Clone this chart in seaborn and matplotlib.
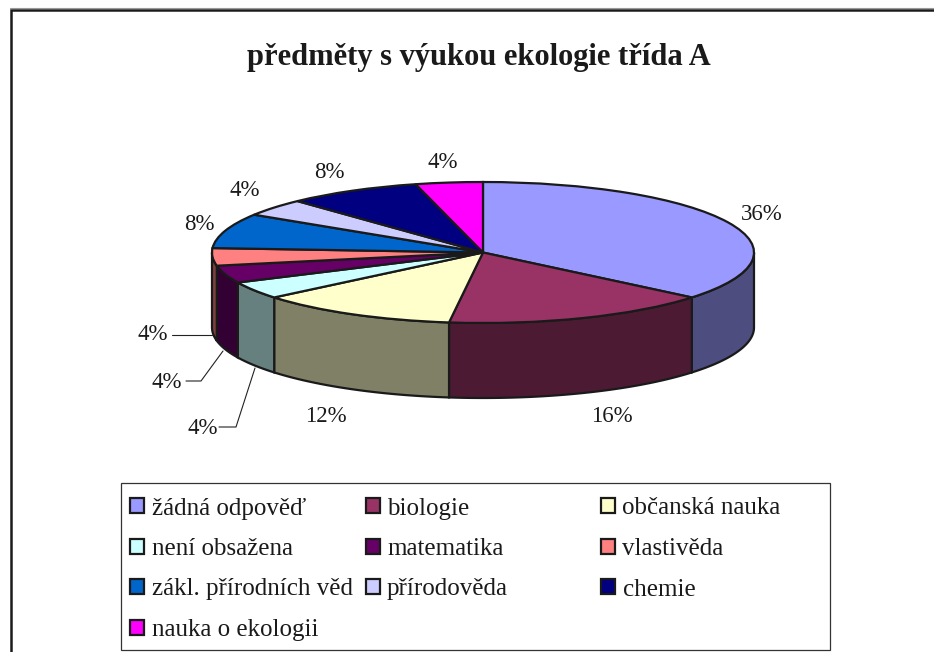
import numpy as np
import matplotlib.pyplot as plt
import matplotlib.colors as mc
from matplotlib.patches import Rectangle
import seaborn as sns

sns.set_theme(style="white")
plt.rcParams['font.family'] = ['Liberation Serif', 'DejaVu Serif']
plt.rcParams['text.color'] = 'k'

# data
title = "předměty s výukou ekologie třída A"
categories = ["žádná odpověď", "biologie", "občanská nauka", "není obsažena", "matematika",
              "vlastivěda", "zákl. přírodních věd", "přírodověda", "chemie", "nauka o ekologii"]
values = [9, 4, 3, 1, 1, 1, 2, 1, 2, 1]
colors = ["#9999FF", "#993366", "#FFFFCC", "#CCFFFF", "#660066",
          "#FF8080", "#0066CC", "#CCCCFF", "#000080", "#FF00FF"]

W, H = 934, 652
palette = sns.color_palette(colors)

fig = plt.figure(figsize=(W / 100, H / 100), dpi=100, facecolor='w')

# vrstva v pixelech pro ramecek a popisky
bg = fig.add_axes([0, 0, 1, 1])
bg.set_xlim(0, W)
bg.set_ylim(H, 0)
bg.axis('off')
# ramecek je videt jen nahore a vlevo
bg.plot([10.5, 10.5, W], [H, 10, 10], color='k', lw=1.8, solid_joinstyle='miter')
bg.plot([10, W], [8, 8], color='#999999', lw=0.8)
bg.text(478.5, 58, title, ha='center', va='center', fontsize=22, fontweight='bold')

# kolac - elipsa se stredem (483, 252.5)
cx, cy, rx, ry, depth = 483, 252.5, 271, 70.5, 75
ax = fig.add_axes([(cx - rx) / W, 1 - (cy + ry) / H, 2 * rx / W, 2 * ry / H])
ax.patch.set_alpha(0)
wedges, _ = ax.pie(values, colors=palette, startangle=90, counterclock=False,
                   wedgeprops=dict(edgecolor='k', linewidth=1.6))
ax.set_aspect('auto')
ax.set_xlim(-1, 1)
ax.set_ylim(-1, 1)
ax.axis('off')

# bocni stena, jen predni polovina
d = depth / ry
total = sum(values)
ends = 90 - np.cumsum(values) / total * 360
starts = np.r_[90, ends[:-1]]
for a0, a1, c in zip(starts, ends, palette):
    lo, hi = a1 % 360, a0 % 360
    if hi <= lo:
        hi += 360
    lo2, hi2 = max(lo, 180), min(hi, 360)
    if hi2 <= lo2:
        continue
    t = np.radians(np.linspace(lo2, hi2, 60))
    xs = np.r_[np.cos(t), np.cos(t[::-1])]
    ys = np.r_[np.sin(t), np.sin(t[::-1]) - d]
    dark = tuple(np.array(mc.to_rgb(c)) * 0.5)
    ax.fill(xs, ys, facecolor=dark, edgecolor='k', lw=1.6, clip_on=False, zorder=0.5)

# popisky
pct = ["%d%%" % round(v / total * 100) for v in values]
label_pos = [(762, 214), (612, 417), (326, 416), (203, 429), (167, 382),
             (153, 335), (199, 224), (245, 191), (329, 172), (443, 162)]
for s, (x, y) in zip(pct, label_pos):
    bg.text(x, y, s, ha='center', va='center', fontsize=16.5)

# vodici cary
leaders = [[(219, 427), (236, 427), (255, 368)],
           [(186, 381), (201, 381), (223, 351)],
           [(172, 335), (212, 335)]]
for line in leaders:
    bg.plot(*zip(*line), color='#222222', lw=0.8)

# legenda - tri stejne siroke sloupce, kazdy zvlast
bg.add_patch(Rectangle((121, 482.5), 709, 167, fc='w', ec='#333333', lw=0.9))
columns = [[0, 3, 6, 9], [1, 4, 7], [2, 5, 8]]
column_x = [130, 365.5, 601]
for idx, x in zip(columns, column_x):
    leg = bg.legend([wedges[i] for i in idx], [categories[i] for i in idx],
                    loc='upper left', bbox_to_anchor=(x / W, 1 - 497.5 / H), bbox_transform=fig.transFigure,
                    fontsize=18, frameon=False, handlelength=0.56, handleheight=0.56, handletextpad=0.3,
                    labelspacing=0.74, borderpad=0, borderaxespad=0)
    for h in leg.get_patches():
        h.set_linewidth(1.6)
        h.set_edgecolor('k')
    bg.add_artist(leg)
bg.legend_ = None  # jinak se posledni sloupec kresli dvakrat

fig.savefig('out.png', dpi=100)
